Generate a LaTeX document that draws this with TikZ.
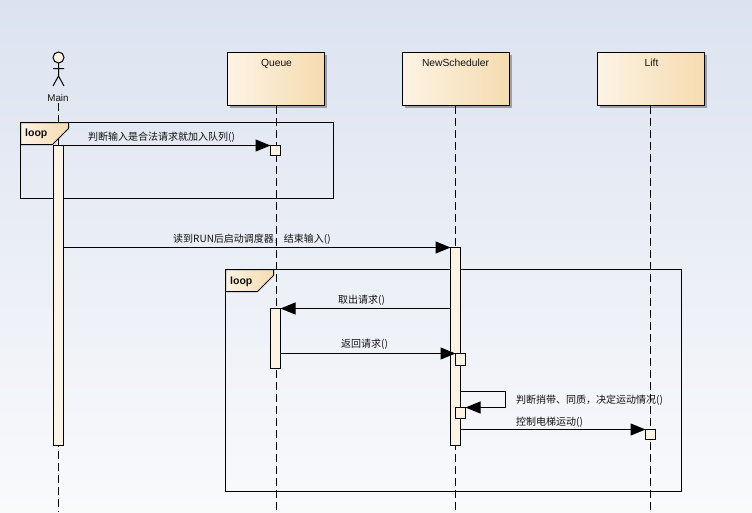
\documentclass[tikz,border=0pt]{standalone}
\usepackage{fontspec}
\setmainfont{Liberation Sans}
\newfontfamily\cjk{Noto Sans CJK SC}
\usetikzlibrary{shadows,arrows.meta,calc}
\definecolor{bgtop}{HTML}{DCE3F0}
\definecolor{bgbot}{HTML}{F9FAFC}
\definecolor{boxl}{HTML}{FDF3E4}
\definecolor{boxr}{HTML}{F5DBB0}
\definecolor{act}{HTML}{FDF3E5}
\definecolor{ink}{HTML}{000000}
\definecolor{txt}{HTML}{111111}
\tikzset{
  x=1pt,y=-1pt,
  lifebox/.style={draw=ink,line width=1pt,outer sep=0pt,left color=boxl,right color=boxr,minimum width=97pt,minimum height=53pt,inner sep=0pt,
    drop shadow={shadow xshift=2.5pt,shadow yshift=-2.5pt,fill=black!55,opacity=.6}},
  lifebig/.style={lifebox,minimum width=107pt},
  boxlabel/.style={font=\fontsize{10.3}{11}\selectfont,text=txt,inner sep=0pt,anchor=base},
  lifeline/.style={draw=ink,line width=1pt,dash pattern=on 8pt off 4pt},
  actbox/.style={draw=ink,line width=1pt,outer sep=0pt,fill=act,minimum width=10pt,inner sep=0pt},
  frame/.style={draw=ink,line width=1pt,outer sep=0pt,inner sep=0pt},
  tag/.style={draw=ink,line width=1pt,left color=boxl,right color=boxr},
  looplabel/.style={font=\bfseries\fontsize{10.5}{11}\selectfont,text=txt,inner sep=0pt},
  msg/.style={draw=ink,line width=1pt,-{Triangle[length=15pt,width=12pt]}},
  msglabel/.style={font=\cjk\fontsize{10}{11}\selectfont,text=txt,inner sep=0pt,anchor=base west},
}
\begin{document}
\begin{tikzpicture}
\useasboundingbox (0,0) rectangle (752,512);
\shade[top color=bgtop,bottom color=bgbot] (0,0) rectangle (752,512);

% lifeline heads
\node[lifebox] (queue) at (276,79) {};
\node[lifebig] (sched) at (456,79) {};
\node[lifebig] (lift) at (651,79) {};
\node[boxlabel] at (276.5,66) {Queue};
\node[boxlabel] at (455.5,66) {NewScheduler};
\node[boxlabel] at (651.5,66) {Lift};

% actor
\draw[draw=ink,line width=1pt,fill=act] (58.5,57.5) circle (5.5);
\draw[draw=ink,line width=1pt] (58.5,63)--(58.5,76) (53,68.5)--(64,68.5) (53,86)--(58.5,76)--(64,86);
\node[boxlabel,font=\fontsize{9.8}{10}\selectfont] (main) at (58,101) {Main};

% bottom ends of the lifelines
\coordinate (mainend) at (58.5,512);
\coordinate (queueend) at (276.5,512);
\coordinate (schedend) at (455.5,512);
\coordinate (liftend) at (650.5,512);
\draw[lifeline] (mainend |- main.south) ++(0,2) -- (mainend);
\draw[lifeline] (queueend |- queue.south) -- (queueend);
\draw[lifeline] (schedend |- sched.south) -- (schedend);
\draw[lifeline] (liftend |- lift.south) -- (liftend);

% combined fragments
\node[frame,minimum width=313pt,minimum height=76pt] (loopa) at (177,160.5) {};
\node[frame,minimum width=456pt,minimum height=222pt] (loopb) at (453.5,380.5) {};
\filldraw[tag] (loopa.north west) -- ++(48,0) -- ++(0,6) -- ++(-16,16) -- ++(-32,0) -- cycle;
\filldraw[tag] (loopb.north west) -- ++(48,0) -- ++(0,6) -- ++(-16,16) -- ++(-32,0) -- cycle;
\node[looplabel,anchor=base west] (loopal) at (25,136) {loop};
\node[looplabel,anchor=base west] (loopbl) at (230,284) {loop};

% activations
\node[actbox,minimum height=300pt] (mainact) at (58.5,295.5) {};
\node[actbox,minimum height=10pt] (qa) at (275.5,150.5) {};
\node[actbox,minimum height=198pt] (sa) at (455.5,346.5) {};
\node[actbox,minimum height=60pt] (qb) at (275.5,338.5) {};
\node[actbox,minimum height=12pt] (sb) at (460.5,359.5) {};
\node[actbox,minimum height=11pt] (sc) at (460.5,413) {};
\node[actbox,minimum height=10pt] (la) at (650.5,434.5) {};

% messages
\draw[msg] (mainact.north east) -- (qa.north west);
\draw[msg] (sa.north west -| mainact.east) -- (sa.north west);
\draw[msg] (qb.north east -| sa.west) -- (qb.north east);
\draw[msg] (sb.north west -| qb.east) -- (sb.north west);
\coordinate (selfa) at (505.5,391.5);
\coordinate (selfb) at (505.5,407.5);
\draw[msg] (selfa -| sa.east) -- (selfa) -- (selfb) -- (sc.north east);
\draw[msg] (la.north west -| sa.east) -- (la.north west);

% message labels
\node[msglabel] at (88,140) {判断输入是合法请求就加入队列()};
\node[msglabel] at (173,242) {读到RUN后启动调度器，结束输入()};
\node[msglabel] at (338,303.5) {取出请求()};
\node[msglabel] at (341,347.5) {返回请求()};
\node[msglabel] at (516,403.5) {判断捎带、同质，决定运动情况()};
\node[msglabel] at (516,425.5) {控制电梯运动()};
\end{tikzpicture}
\end{document}
